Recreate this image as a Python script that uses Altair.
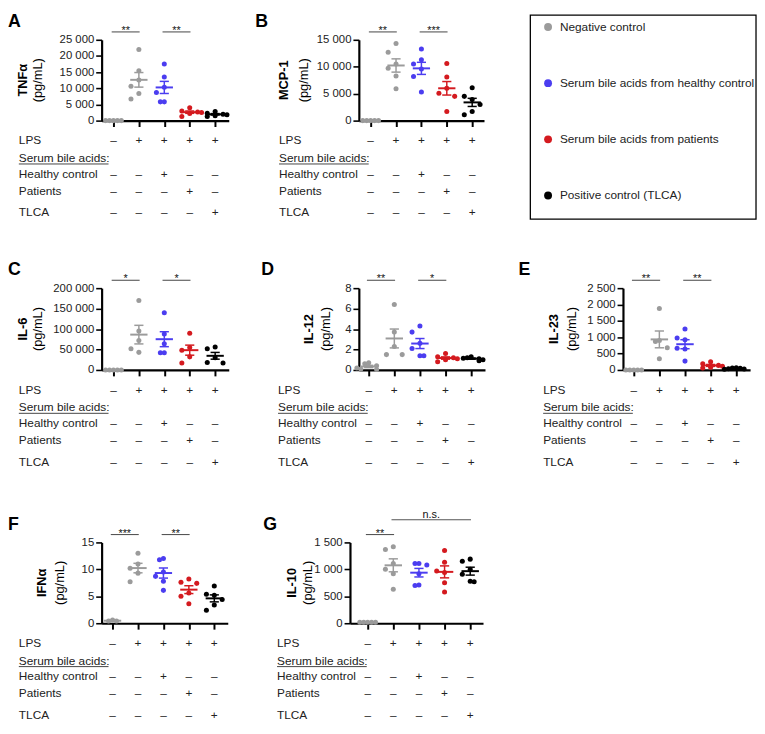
import math
import altair as alt
import pandas as pd

FONT = "Liberation Sans"
GREY = "#9b9b9b"
BLUE = "#4b3df0"
RED = "#d41a1f"
BLACK = "#000000"
CAT_COLORS = [GREY, GREY, BLUE, RED, BLACK]

# ---------------- data ----------------
tnf_neg = [0, 0, 0, 0, 0]
tnf_lps = [22000, 15400, 12600, 10600, 8400, 6700]
tnf_hc = [17500, 13500, 10300, 8700, 5800, 5800]
tnf_pt = [4000, 3000, 2700, 2500, 2200, 1300]
tnf_tlca = [2800, 2300, 2000, 1800, 1500, 1300]

mcp_neg = [0, 0, 0, 0, 0]
mcp_lps = [14300, 12700, 10500, 9700, 8300, 5900]
mcp_hc = [13300, 11300, 10500, 9600, 8200, 5300]
mcp_pt = [10600, 8100, 6000, 5100, 4500, 1700]
mcp_tlca = [6100, 4500, 3900, 3000, 1700, 1100]

il6_neg = [0, 0, 0, 0, 0]
il6_lps = [170000, 95000, 72000, 52000, 43000]
il6_hc = [140000, 88000, 64000, 42000, 42000]
il6_pt = [90000, 55000, 48000, 32000, 17000]
il6_tlca = [56000, 52000, 30000, 18000, 17000]

il12_neg = [0.7, 0.6, 0.4, 0.2, 0.1, 0.05]
il12_lps = [6.4, 3.7, 2.3, 1.5, 1.5]
il12_hc = [4.3, 3.7, 2.6, 2.1, 1.4, 1.4]
il12_pt = [1.6, 1.3, 1.2, 1.1, 1.0, 0.8]
il12_tlca = [1.3, 1.2, 1.15, 1.1, 1.0, 0.9]

il23_neg = [0, 0, 0, 0, 0]
il23_lps = [1880, 900, 870, 680, 340]
il23_hc = [1250, 980, 920, 660, 640, 270]
il23_pt = [250, 190, 140, 110, 80, 60]
il23_tlca = [70, 60, 50, 40, 30, 20]

ifn_neg = [0.4, 0.6, 0.4]
ifn_lps = [13.0, 11.0, 10.2, 9.3, 7.7]
ifn_hc = [12.0, 11.8, 9.5, 8.7, 7.8, 6.1]
ifn_pt = [8.2, 7.6, 7.4, 5.6, 5.0, 3.6]
ifn_tlca = [6.9, 5.4, 5.2, 4.4, 3.4, 2.4]

il10_neg = [20, 20, 20, 20, 20]
il10_lps = [1420, 1370, 1110, 1000, 920, 630]
il10_hc = [1110, 1110, 1080, 920, 710, 700]
il10_pt = [1350, 1130, 970, 940, 750, 580]
il10_tlca = [1190, 1150, 1000, 910, 780, 770]

row_labels = ["LPS", "Healthy control", "Patients", "TLCA"]
row_signs = [
    ["–", "+", "+", "+", "+"],
    ["–", "–", "+", "–", "–"],
    ["–", "–", "–", "+", "–"],
    ["–", "–", "–", "–", "+"],
]
header_label = "Serum bile acids:"

legend_labels = ["Negative control", "Serum bile acids from healthy control",
                 "Serum bile acids from patients", "Positive control (TLCA)"]
legend_colors = [GREY, BLUE, RED, BLACK]

# ---------------- panel settings ----------------
PANELS = {
    "A": dict(name="TNFα", groups=[tnf_neg, tnf_lps, tnf_hc, tnf_pt, tnf_tlca],
              ymax=25000, step=5000, h=82, w=129, xdom=(-0.465, 4.535),
              lx=-95, t1=-80, t2=-64, rl=-84,
              sig=[(0, 1, "**", 0), (2, 3, "**", 0)]),
    "B": dict(name="MCP-1", groups=[mcp_neg, mcp_lps, mcp_hc, mcp_pt, mcp_tlca],
              ymax=15000, step=5000, h=82, w=127, xdom=(-0.465, 4.466),
              lx=-105, t1=-76, t2=-56, rl=-81,
              sig=[(0, 1, "**", 0), (2, 3, "***", 0)]),
    "C": dict(name="IL-6", groups=[il6_neg, il6_lps, il6_hc, il6_pt, il6_tlca],
              ymax=200000, step=50000, h=83, w=129, xdom=(-0.465, 4.535),
              lx=-95, t1=-80, t2=-64, rl=-84,
              sig=[(0, 1, "*", 0), (2, 3, "*", 0)]),
    "D": dict(name="IL-12", groups=[il12_neg, il12_lps, il12_hc, il12_pt, il12_tlca],
              ymax=8, step=2, h=83, w=128, xdom=(-0.385, 4.54),
              lx=-99, t1=-51, t2=-33, rl=-82,
              sig=[(0, 1, "**", 0), (2, 3, "*", 0)]),
    "E": dict(name="IL-23", groups=[il23_neg, il23_lps, il23_hc, il23_pt, il23_tlca],
              ymax=2500, step=500, h=83, w=129, xdom=(-0.42, 4.54),
              lx=-106, t1=-70, t2=-52, rl=-81,
              sig=[(0, 1, "**", 0), (2, 3, "**", 0)]),
    "F": dict(name="IFNα", groups=[ifn_neg, ifn_lps, ifn_hc, ifn_pt, ifn_tlca],
              ymax=15, step=5, h=82, w=128, xdom=(-0.43, 4.53),
              lx=-95, t1=-60, t2=-42, rl=-84,
              sig=[(0, 1, "***", 0), (2, 3, "**", 0)]),
    "G": dict(name="IL-10", groups=[il10_neg, il10_lps, il10_hc, il10_pt, il10_tlca],
              ymax=1500, step=500, h=82, w=135, xdom=(-0.69, 4.5),
              lx=-88, t1=-59, t2=-43, rl=-74,
              sig=[(0, 1, "**", 0), (1, 4, "n.s.", 1)]),
}

ROW_OFFS = [20, 54, 71, 93]   # pixel offsets below the x axis for table rows
HEADER_OFF = 38


def swarm(vals, ppu, ppx):
    """Simple beeswarm: horizontal offsets (in category units); dense clusters may overlap."""
    order = sorted(range(len(vals)), key=lambda i: -vals[i])
    cands = [0.0, -4.0, 4.0, -8.0, 8.0, -12.0, 12.0]
    placed = []
    offs = [0.0] * len(vals)
    for i in order:
        y = vals[i] * ppu
        best, best_bad = 0.0, None
        for c in cands:
            bad = 0
            for py, px in placed:
                dy = abs(py - y)
                dx = abs(px - c)
                if (dy < 1.5 and dx < 4) or (1.5 <= dy < 9 and dx < 8):
                    bad += 1
            if best_bad is None or bad < best_bad:
                best, best_bad = c, bad
            if bad == 0:
                break
        placed.append((y, best))
        offs[i] = best / ppx
    return offs


def panel(letter):
    p = PANELS[letter]
    H, W = p["h"], p["w"]
    lo, hi = p["xdom"]
    ppx = W / (hi - lo)
    ppu = H / p["ymax"]

    pts, stats = [], []
    for c, vals in enumerate(p["groups"]):
        offs = swarm(vals, ppu, ppx)
        for v, o in zip(vals, offs):
            pts.append({"x": c + o, "v": v, "col": CAT_COLORS[c]})
        n = len(vals)
        m = sum(vals) / n
        sd = (sum((v - m) ** 2 for v in vals) / (n - 1)) ** 0.5
        se = sd / math.sqrt(n)
        stats.append({"c": c, "m": m, "lo": m - se, "hi": m + se, "col": CAT_COLORS[c],
                      "a1": c - 0.34, "a2": c + 0.34, "b1": c - 0.18, "b2": c + 0.18})
    pts = pd.DataFrame(pts)
    stats = pd.DataFrame(stats)

    xs = alt.Scale(domain=[lo, hi], nice=False, zero=False)
    ys = alt.Scale(domain=[0, p["ymax"]], nice=False, zero=True)
    xaxis = alt.Axis(values=[0, 1, 2, 3, 4], labels=False, title=None, grid=False,
                     tickSize=6, tickWidth=2, tickColor="black",
                     domainColor="black", domainWidth=2.2)
    yaxis = alt.Axis(values=list(range(0, p["ymax"] + 1, p["step"])),
                     labelExpr="replace(format(datum.value, ','), ',', ' ')",
                     title=None, grid=False, tickSize=6, tickWidth=1.6, tickColor="black",
                     domainColor="black", domainWidth=2.2, labelFontSize=11.5,
                     labelColor="#222222", labelPadding=2, labelFont=FONT)

    def X(f):
        return alt.X(f, scale=xs, axis=xaxis)

    def Y(f):
        return alt.Y(f, scale=ys, axis=yaxis)

    col = alt.Color("col:N", scale=None)

    layers = []
    layers.append(alt.Chart(pts).mark_circle(size=26, opacity=1).encode(
        x=X("x:Q"), y=Y("v:Q"), color=col))
    sb = alt.Chart(stats)
    layers.append(sb.mark_rule(strokeWidth=2).encode(
        x=X("a1:Q"), x2="a2:Q", y=Y("m:Q"), color=col))
    layers.append(sb.mark_rule(strokeWidth=1.5).encode(
        x=X("c:Q"), y=Y("lo:Q"), y2="hi:Q", color=col))
    for f in ("lo", "hi"):
        layers.append(sb.mark_rule(strokeWidth=1.5).encode(
            x=X("b1:Q"), x2="b2:Q", y=Y(f + ":Q"), color=col))

    # significance bars
    for level, yline, ytext in ((0, -8, -6), (1, -23, -25)):
        s = [d for d in p["sig"] if d[3] == level]
        if not s:
            continue
        sdf = pd.DataFrame({"x1": [d[0] - 0.07 for d in s], "x2": [d[1] + 0.03 for d in s],
                            "lab": [d[2] for d in s]})
        sdf["mid"] = (sdf["x1"] + sdf["x2"]) / 2
        sc = alt.Chart(sdf)
        layers.append(sc.mark_rule(color="#555555", strokeWidth=1.1).encode(
            x=X("x1:Q"), x2="x2:Q", y=alt.value(yline)))
        layers.append(sc.mark_text(fontSize=11, color="#111111", baseline="alphabetic").encode(
            x=X("mid:Q"), y=alt.value(ytext), text="lab:N"))

    # table of conditions below the x axis
    for lab, signs, off in zip(row_labels, row_signs, ROW_OFFS):
        tdf = pd.DataFrame({"c": [0, 1, 2, 3, 4], "s": signs})
        layers.append(alt.Chart(tdf).mark_text(fontSize=12, color="#222222", baseline="middle").encode(
            x=X("c:Q"), y=alt.value(H + off), text="s:N"))
        layers.append(alt.Chart(pd.DataFrame({"t": [lab]})).mark_text(
            fontSize=12, color="#222222", align="left", baseline="middle").encode(
            x=alt.value(p["rl"]), y=alt.value(H + off), text="t:N"))
    hdf = pd.DataFrame({"t": [header_label]})
    layers.append(alt.Chart(hdf).mark_text(
        fontSize=12, color="#222222", align="left", baseline="middle").encode(
        x=alt.value(p["rl"]), y=alt.value(H + HEADER_OFF), text="t:N"))
    layers.append(alt.Chart(hdf).mark_rule(color="#444444", strokeWidth=1).encode(
        x=alt.value(p["rl"]), x2=alt.value(p["rl"] + 91), y=alt.value(H + HEADER_OFF + 6)))

    # panel letter and y-axis title
    layers.append(alt.Chart(pd.DataFrame({"t": [letter]})).mark_text(
        fontSize=18, fontWeight="bold", color="black", align="left", baseline="top").encode(
        x=alt.value(p["lx"]), y=alt.value(-27), text="t:N"))
    layers.append(alt.Chart(pd.DataFrame({"t": [p["name"]]})).mark_text(
        fontSize=13, fontWeight="bold", color="black", angle=270, baseline="middle").encode(
        x=alt.value(p["t1"]), y=alt.value(H / 2), text="t:N"))
    layers.append(alt.Chart(pd.DataFrame({"t": ["(pg/mL)"]})).mark_text(
        fontSize=13, color="black", angle=270, baseline="middle").encode(
        x=alt.value(p["t2"]), y=alt.value(H / 2), text="t:N"))

    return alt.layer(*layers).properties(width=W, height=H)


def legend_chart():
    H = 82
    ldf = pd.DataFrame({"label": legend_labels, "col": legend_colors, "i": [0, 1, 2, 3]})
    ly = alt.Scale(domain=[0.228, 1.667], reverse=True, nice=False, zero=False)
    box = alt.Chart(pd.DataFrame({"k": [0]})).mark_rect(
        fill="transparent", stroke="black", strokeWidth=1.3).encode(
        x=alt.value(21), x2=alt.value(250), y=alt.value(-25), y2=alt.value(182))
    dots = alt.Chart(ldf).mark_circle(size=64, opacity=1).encode(
        x=alt.value(39), y=alt.Y("i:Q", scale=ly, axis=None),
        color=alt.Color("col:N", scale=None))
    txt = alt.Chart(ldf).mark_text(fontSize=12, color="#222222", align="left", baseline="middle").encode(
        x=alt.value(51), y=alt.Y("i:Q", scale=ly, axis=None), text="label:N")
    return alt.layer(box, dots, txt).properties(width=251, height=H)


row1 = alt.hconcat(panel("A"), panel("B"), legend_chart(), spacing=26)
row2 = alt.hconcat(panel("C"), panel("D"), panel("E"), spacing=33)
row3 = alt.hconcat(panel("F"), panel("G"), spacing=36)

chart = alt.vconcat(row1, row2, row3, spacing=42).properties(padding=0).configure(
    font=FONT).configure_view(stroke=None)

chart.save("out.html", embed_options={"renderer": "svg", "actions": False})
